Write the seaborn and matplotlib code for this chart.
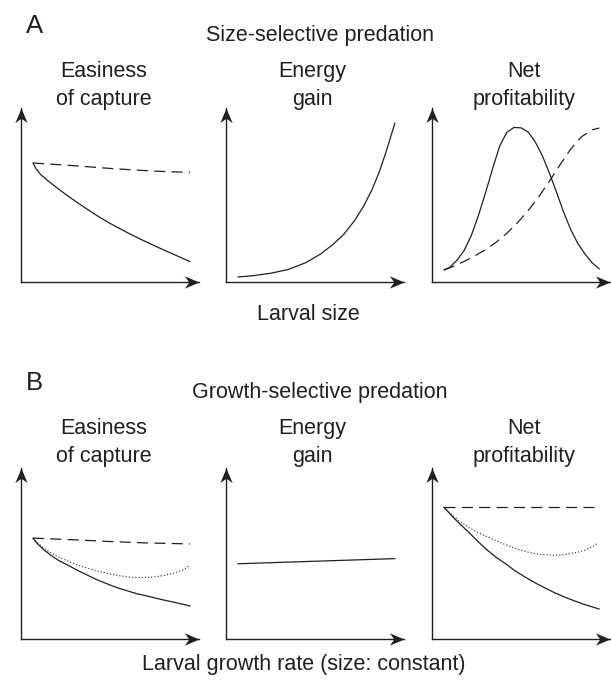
import matplotlib
matplotlib.use("Agg")
import matplotlib.pyplot as plt
import seaborn as sns
from matplotlib.path import Path
from matplotlib.markers import MarkerStyle
from matplotlib.transforms import Affine2D

sns.set_style("white")
plt.rcParams['font.family'] = ['Liberation Sans', 'DejaVu Sans']
plt.rcParams['lines.scale_dashes'] = False

INK = "#231f20"

# ---------------- data (axes units: 0..1 from origin to arrow tip) ----------------
# Panel A1: easiness of capture vs larval size
a1_x_solid = [0.067, 0.085, 0.11, 0.15, 0.20, 0.26, 0.32, 0.38, 0.44, 0.50, 0.56,
              0.62, 0.68, 0.74, 0.80, 0.86, 0.91, 0.949]
a1_y_solid = [0.684, 0.650, 0.618, 0.583, 0.543, 0.497, 0.454, 0.413, 0.373, 0.337, 0.304,
              0.272, 0.242, 0.213, 0.185, 0.158, 0.135, 0.117]
a1_x_dash = [0.067, 0.20, 0.32, 0.43, 0.54, 0.65, 0.76, 0.86, 0.95]
a1_y_dash = [0.684, 0.675, 0.667, 0.658, 0.650, 0.643, 0.637, 0.633, 0.630]

# Panel A2: energy gain vs larval size
a2_x = [0.067, 0.15, 0.25, 0.35, 0.45, 0.53, 0.60, 0.66, 0.72, 0.77, 0.82, 0.86, 0.90, 0.949]
a2_y = [0.029, 0.036, 0.050, 0.072, 0.112, 0.160, 0.215, 0.272, 0.350, 0.430, 0.530, 0.630,
        0.750, 0.914]

# Panel A3: net profitability vs larval size
a3_x_solid = [0.067, 0.10, 0.14, 0.18, 0.22, 0.26, 0.30, 0.34, 0.38, 0.42, 0.46, 0.50,
              0.54, 0.58, 0.62, 0.66, 0.70, 0.74, 0.78, 0.82, 0.86, 0.90, 0.94]
a3_y_solid = [0.069, 0.085, 0.125, 0.180, 0.265, 0.380, 0.510, 0.650, 0.780, 0.860, 0.888,
              0.886, 0.862, 0.805, 0.725, 0.625, 0.515, 0.400, 0.300, 0.220, 0.160, 0.110,
              0.075]
a3_x_dash = [0.067, 0.12, 0.18, 0.24, 0.30, 0.36, 0.42, 0.48, 0.54, 0.60, 0.66, 0.72,
             0.78, 0.84, 0.90, 0.94]
a3_y_dash = [0.069, 0.090, 0.118, 0.150, 0.185, 0.228, 0.280, 0.340, 0.410, 0.490, 0.580,
             0.675, 0.765, 0.835, 0.875, 0.885]

# Panel B1: easiness of capture vs growth rate
b1_x_solid = [0.067, 0.09, 0.13, 0.17, 0.21, 0.27, 0.32, 0.38, 0.43, 0.49, 0.54, 0.60,
              0.65, 0.71, 0.76, 0.81, 0.86, 0.91, 0.95]
b1_y_solid = [0.590, 0.560, 0.520, 0.488, 0.460, 0.428, 0.400, 0.370, 0.345, 0.320, 0.300,
              0.281, 0.265, 0.251, 0.238, 0.226, 0.215, 0.203, 0.193]
b1_x_dash = [0.067, 0.30, 0.50, 0.70, 0.95]
b1_y_dash = [0.590, 0.580, 0.570, 0.562, 0.556]
b1_x_dot = [0.067, 0.10, 0.13, 0.17, 0.21, 0.27, 0.32, 0.38, 0.43, 0.49, 0.54, 0.60,
            0.65, 0.71, 0.76, 0.81, 0.86, 0.91, 0.95]
b1_y_dot = [0.590, 0.555, 0.530, 0.503, 0.480, 0.452, 0.432, 0.412, 0.398, 0.383, 0.372,
            0.363, 0.360, 0.360, 0.365, 0.373, 0.385, 0.404, 0.430]

# Panel B2: energy gain vs growth rate
b2_x = [0.067, 0.949]
b2_y = [0.440, 0.470]

# Panel B3: net profitability vs growth rate
b3_x_dash = [0.067, 0.94]
b3_y_dash = [0.770, 0.770]
b3_x_solid = [0.067, 0.10, 0.13, 0.17, 0.21, 0.26, 0.31, 0.36, 0.42, 0.47, 0.53, 0.58,
              0.64, 0.69, 0.75, 0.80, 0.85, 0.90, 0.94]
b3_y_solid = [0.770, 0.733, 0.700, 0.660, 0.620, 0.568, 0.520, 0.478, 0.435, 0.396, 0.358,
              0.328, 0.296, 0.270, 0.243, 0.223, 0.204, 0.188, 0.175]
b3_x_dot = [0.067, 0.10, 0.13, 0.17, 0.21, 0.26, 0.31, 0.36, 0.40, 0.45, 0.49, 0.54,
            0.59, 0.64, 0.685, 0.73, 0.78, 0.82, 0.86, 0.90, 0.93]
b3_y_dot = [0.770, 0.738, 0.710, 0.678, 0.650, 0.622, 0.598, 0.575, 0.557, 0.537, 0.522,
            0.508, 0.498, 0.492, 0.490, 0.492, 0.500, 0.508, 0.520, 0.540, 0.560]

panel_titles = [["Easiness", "of capture"], ["Energy", "gain"], ["Net", "profitability"]]
section_letters = ["A", "B"]
section_titles = ["Size-selective predation", "Growth-selective predation"]
section_xlabels = ["Larval size", "Larval growth rate (size: constant)"]

# ---------------- layout ----------------
W, H = 611, 682
fig = plt.figure(figsize=(W / 100, H / 100), dpi=100)
fig.patch.set_facecolor("white")


def fx(px):
    return px / W


def fy(py):
    return 1 - py / H


# stealth arrow head, tip at origin
head = Path([(0, 0), (-1.0, 0.42), (-0.70, 0), (-1.0, -0.42), (0, 0)],
            [Path.MOVETO, Path.LINETO, Path.LINETO, Path.LINETO, Path.CLOSEPOLY])
head_right = MarkerStyle(head)
head_up = MarkerStyle(head).transformed(Affine2D().rotate_deg(90))


def make_axes(left_px, base_px, top_px, width_px=178):
    ax = fig.add_axes([fx(left_px), fy(base_px), width_px / W, (base_px - top_px) / H])
    ax.set_xlim(0, 1)
    ax.set_ylim(0, 1)
    ax.set_facecolor("none")
    for s in ["top", "right"]:
        ax.spines[s].set_visible(False)
    for s in ["left", "bottom"]:
        ax.spines[s].set_color(INK)
        ax.spines[s].set_linewidth(1.0)
    ax.set_xticks([])
    ax.set_yticks([])
    ax.plot(1, 0, marker=head_right, ms=21, color=INK, mew=0,
            transform=ax.transAxes, clip_on=False)
    ax.plot(0, 1, marker=head_up, ms=21, color=INK, mew=0,
            transform=ax.transAxes, clip_on=False)
    return ax


def line(ax, x, y, style):
    if style == "solid":
        ls, lw = "-", 0.9
    elif style == "dash":
        ls, lw = (0, (8, 4.5)), 0.9
    else:
        ls, lw = (0, (0.8, 1.5)), 0.8
    sns.lineplot(x=x, y=y, ax=ax, color=INK, linestyle=ls, lw=lw, errorbar=None,
                 sort=False, estimator=None)


lefts = [21, 226, 432]
offsets = [0, 357]

axesA = [make_axes(l, 282, 108) for l in lefts]
axesB = [make_axes(l, 639, 468) for l in lefts]

line(axesA[0], a1_x_dash, a1_y_dash, "dash")
line(axesA[0], a1_x_solid, a1_y_solid, "solid")
line(axesA[1], a2_x, a2_y, "solid")
line(axesA[2], a3_x_solid, a3_y_solid, "solid")
line(axesA[2], a3_x_dash, a3_y_dash, "dash")

line(axesB[0], b1_x_dash, b1_y_dash, "dash")
line(axesB[0], b1_x_dot, b1_y_dot, "dot")
line(axesB[0], b1_x_solid, b1_y_solid, "solid")
line(axesB[1], b2_x, b2_y, "solid")
line(axesB[2], b3_x_dash, b3_y_dash, "dash")
line(axesB[2], b3_x_dot, b3_y_dot, "dot")
line(axesB[2], b3_x_solid, b3_y_solid, "solid")

for ax in axesA + axesB:
    ax.set_xlabel("")
    ax.set_ylabel("")

# ---------------- text ----------------
title_cx = [104, 312, 524]
fs = 15.5
for i, off in enumerate(offsets):
    fig.text(fx(26), fy(33 + off), section_letters[i], fontsize=18.5, color=INK,
             ha="left", va="baseline")
    fig.text(fx(320), fy(41 + off), section_titles[i], fontsize=fs, color=INK,
             ha="center", va="baseline")
    for cx, (l1, l2) in zip(title_cx, panel_titles):
        fig.text(fx(cx), fy(77 + off), l1, fontsize=fs, color=INK, ha="center", va="baseline")
        fig.text(fx(cx), fy(105 + off), l2, fontsize=fs, color=INK, ha="center", va="baseline")

fig.text(fx(308), fy(320), section_xlabels[0], fontsize=fs, color=INK, ha="center", va="baseline")
fig.text(fx(304), fy(670), section_xlabels[1], fontsize=fs, color=INK, ha="center", va="baseline")

fig.savefig("out.png", dpi=100, facecolor="white")
